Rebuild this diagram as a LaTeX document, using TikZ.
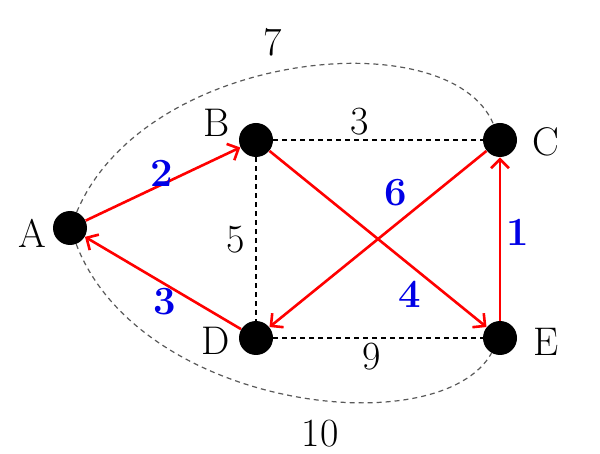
\documentclass[tikz,border=0pt]{standalone}
\usetikzlibrary{arrows.meta}
\begin{document}
\begin{tikzpicture}[x=0.5pt,y=-0.5pt,
  dot/.style={circle,fill=black,minimum size=17pt,inner sep=0pt},
  lab/.style={font=\fontsize{20}{24}\selectfont,inner sep=0pt},
  wlab/.style={font=\fontsize{20}{24}\selectfont,inner sep=0pt,text=black},
  blab/.style={font=\fontsize{20}{24}\selectfont\bfseries,inner sep=0pt,text={rgb,255:red,0;green,0;blue,230}},
  dedge/.style={draw=black,line width=0.55pt,dash pattern=on 2.5pt off 2pt},
  gedge/.style={draw=black!65,line width=0.6pt,dash pattern=on 2.5pt off 2pt},
  redge/.style={draw=red,line width=1.3pt,-{Straight Barb[length=4.5pt,width=9pt]}}]
\useasboundingbox (0,0) rectangle (600,454);
% nodes
\node[dot] (A) at (70,228) {};
\node[dot] (B) at (256,140) {};
\node[dot] (C) at (500,140) {};
\node[dot] (D) at (256,338) {};
\node[dot] (E) at (500,338) {};
\node[lab] (lA) at (32,233) {A};
\node[lab] (lB) at (217,123) {B};
\node[lab] (lC) at (546,142) {C};
\node[lab] (lD) at (216,341) {D};
\node[lab] (lE) at (546,342) {E};
% dashed edges
\draw[dedge] (B) -- (C);
\draw[dedge] (B) -- (D);
\draw[dedge] (D) -- (E);
\draw[gedge] (A) .. controls (145,50) and (450,20) .. (C);
\draw[gedge] (A) .. controls (140,410) and (440,445) .. (E);
% red arrows
\draw[redge] (A) -- (B);
\draw[redge] (D) -- (A);
\draw[redge] (C) -- (D);
\draw[redge] (B) -- (E);
\draw[redge] (E) -- (C);
% labels
\node[blab] (w2) at (162,173) {2};
\node[blab] (w3) at (165,302) {3};
\node[blab] (w6) at (396,193) {6};
\node[blab] (w4) at (410,294) {4};
\node[blab] (w1) at (518,232) {1};
\node[wlab] (w5) at (236,240) {5};
\node[wlab] (w3b) at (360,122) {3};
\node[wlab] (w9) at (372,357) {9};
\node[wlab] (w7) at (273,42) {7};
\node[wlab] (w10) at (320,434) {10};
\end{tikzpicture}
\end{document}
